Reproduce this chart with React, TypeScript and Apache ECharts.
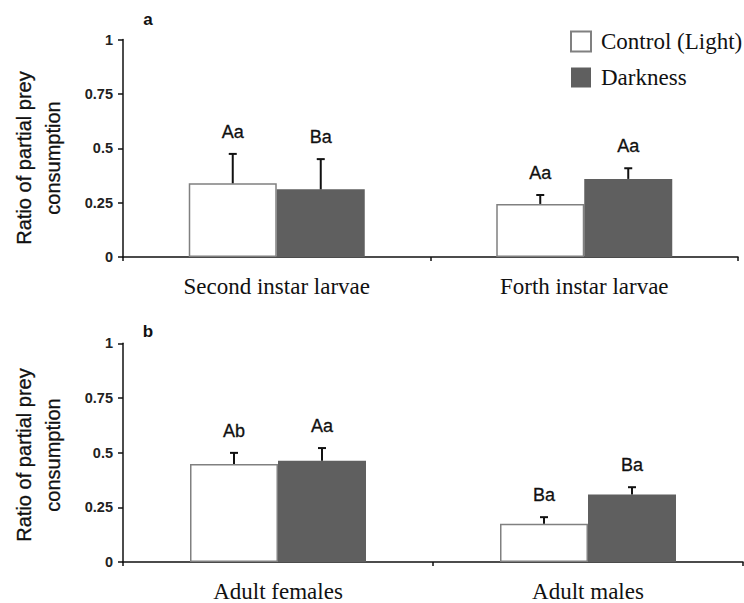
import React, { useEffect, useRef } from "react";
import * as echarts from "echarts";

const categoriesA = ["Second instar larvae", "Forth instar larvae"];
const controlA = [0.339, 0.244];
const controlErrA = [0.135, 0.041];
const darkA = [0.311, 0.359];
const darkErrA = [0.139, 0.049];
const controlLabelsA = ["Aa", "Aa"];
const darkLabelsA = ["Ba", "Aa"];

const categoriesB = ["Adult females", "Adult males"];
const controlB = [0.448, 0.175];
const controlErrB = [0.051, 0.03];
const darkB = [0.463, 0.309];
const darkErrB = [0.058, 0.033];
const controlLabelsB = ["Ab", "Ba"];
const darkLabelsB = ["Aa", "Ba"];

const seriesNames = ["Control (Light)", "Darkness"];
const yTitle = "Ratio of partial prey\nconsumption";

const SERIF = "'Liberation Serif', 'Times New Roman', serif";
const SANS = "'Liberation Sans', Arial, sans-serif";
const BAR_W = 88;

function errSeries(grid: number, means: number[], errs: number[], labels: string[], offset: number) {
  return {
    type: "custom",
    xAxisIndex: grid,
    yAxisIndex: grid,
    silent: true,
    z: 5,
    data: means.map((m, i) => [i, m, errs[i]]),
    renderItem: (params: any, api: any) => {
      const ci = api.value(0);
      const mean = api.value(1);
      const err = api.value(2);
      const base = api.coord([ci, mean]);
      const top = api.coord([ci, mean + err]);
      const x = base[0] + offset;
      const st = { stroke: "#111", lineWidth: 2 };
      return {
        type: "group",
        children: [
          { type: "line", shape: { x1: x, y1: base[1], x2: x, y2: top[1] }, style: st },
          { type: "line", shape: { x1: x - 4, y1: top[1], x2: x + 4, y2: top[1] }, style: st },
          {
            type: "text",
            x: x,
            y: top[1] - 22,
            style: {
              text: labels[params.dataIndex],
              textAlign: "center",
              textVerticalAlign: "middle",
              font: `18px ${SANS}`,
              fill: "#111",
              stroke: "#111",
              lineWidth: 0.3,
            },
          },
        ],
      };
    },
  };
}

function barSeries(grid: number, name: string, values: number[], dark: boolean) {
  return {
    type: "bar",
    name,
    xAxisIndex: grid,
    yAxisIndex: grid,
    barWidth: BAR_W,
    barGap: "0%",
    data: values,
    itemStyle: dark
      ? { color: "#5f5f5f", borderColor: "#5f5f5f", borderWidth: 0 }
      : { color: "#ffffff", borderColor: "#808080", borderWidth: 1.5 },
  };
}

function xAxis(grid: number, cats: string[]) {
  return {
    type: "category",
    gridIndex: grid,
    data: cats,
    axisLine: { lineStyle: { color: "#111", width: 1.5 } },
    axisTick: { show: true, length: 4, lineStyle: { color: "#111", width: 1.5 } },
    axisLabel: { fontFamily: SERIF, fontSize: 23, color: "#111", margin: 18 },
  };
}

function yAxis(grid: number) {
  return {
    type: "value",
    gridIndex: grid,
    min: 0,
    max: 1,
    interval: 0.25,
    splitLine: { show: false },
    axisLine: { show: true, lineStyle: { color: "#111", width: 1.5 } },
    axisTick: { show: true, length: 5, lineStyle: { color: "#111", width: 1.5 } },
    axisLabel: { fontFamily: SANS, fontSize: 14.5, fontWeight: "bold", color: "#222", margin: 10 },
  };
}

function yTitleText(y: number) {
  return {
    type: "text",
    x: 38,
    y,
    rotation: Math.PI / 2,
    style: {
      text: yTitle,
      font: `20px ${SANS}`,
      lineHeight: 29,
      fill: "#111",
      stroke: "#111",
      lineWidth: 0.3,
      textAlign: "center",
      textVerticalAlign: "middle",
    },
  };
}

export default function App() {
  const ref = useRef<HTMLDivElement>(null);
  useEffect(() => {
    if (!ref.current) return;
    const chart = echarts.init(ref.current, null, { renderer: "svg" });
    chart.setOption({
      animation: false,
      backgroundColor: "#ffffff",
      legend: {
        data: seriesNames,
        orient: "vertical",
        left: 565,
        top: 25,
        itemWidth: 20,
        itemHeight: 20,
        itemGap: 13,
        icon: "rect",
        selectedMode: false,
        textStyle: { fontFamily: SERIF, fontSize: 23, color: "#111", padding: [0, 0, 0, 5] },
      },
      grid: [
        { left: 123, right: 6, top: 39.5, height: 217.5 },
        { left: 123, right: 1, top: 343.3, height: 219.4 },
      ],
      xAxis: [xAxis(0, categoriesA), xAxis(1, categoriesB)],
      yAxis: [yAxis(0), yAxis(1)],
      graphic: [
        {
          type: "text",
          x: 148,
          y: 19,
          style: { text: "a", font: `bold 17px ${SANS}`, fill: "#111", textAlign: "center", textVerticalAlign: "middle" },
        },
        {
          type: "text",
          x: 148,
          y: 331,
          style: { text: "b", font: `bold 17px ${SANS}`, fill: "#111", textAlign: "center", textVerticalAlign: "middle" },
        },
        yTitleText(158),
        yTitleText(455),
      ],
      series: [
        barSeries(0, seriesNames[0], controlA, false),
        barSeries(0, seriesNames[1], darkA, true),
        barSeries(1, seriesNames[0], controlB, false),
        barSeries(1, seriesNames[1], darkB, true),
        errSeries(0, controlA, controlErrA, controlLabelsA, -BAR_W / 2),
        errSeries(0, darkA, darkErrA, darkLabelsA, BAR_W / 2),
        errSeries(1, controlB, controlErrB, controlLabelsB, -BAR_W / 2),
        errSeries(1, darkB, darkErrB, darkLabelsB, BAR_W / 2),
      ],
    });
    return () => chart.dispose();
  }, []);
  return (
    <div
      ref={ref}
      style={{ position: "absolute", left: 0, top: 0, width: 744, height: 603 }}
    />
  );
}
